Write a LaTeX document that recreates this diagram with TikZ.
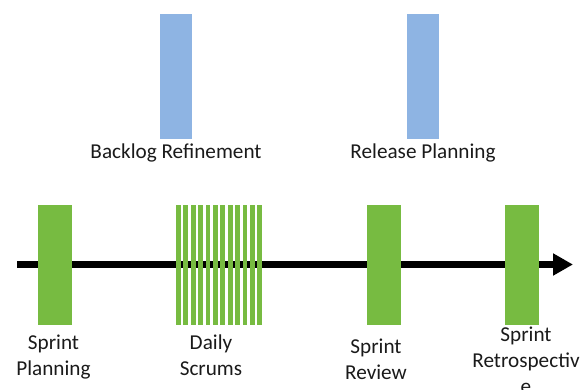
\documentclass[tikz,border=0pt]{standalone}
\usepackage{fontspec}
\setmainfont{Carlito}
\usetikzlibrary{arrows.meta}
\definecolor{barblue}{HTML}{8EB4E3}
\definecolor{bargreen}{HTML}{77BB41}
\definecolor{txt}{HTML}{1A1A1A}
\begin{document}
\begin{tikzpicture}[x=1pt,y=-1pt,
  bluebar/.style={rectangle,fill=barblue,inner sep=0pt,minimum width=32pt,minimum height=125pt},
  greenbar/.style={rectangle,fill=bargreen,inner sep=0pt,minimum width=34pt,minimum height=120pt},
  stripe/.style={rectangle,fill=bargreen,inner sep=0pt,minimum width=4.7pt,minimum height=120pt},
  lbl/.style={font=\fontsize{21.2}{26}\selectfont,text=txt,inner sep=0pt,align=center,anchor=base},
  timeline/.style={line width=6.5pt,-{Triangle[length=20pt,width=21pt]}}
]
\useasboundingbox (0,0) rectangle (583,390);
% timeline
\coordinate (tstart) at (17,264.5);
\coordinate (tend) at (573,264.5);
\draw[timeline] (tstart) -- (tend);
% blue bars
\node[bluebar] (br) at (176,76.5) {};
\node[bluebar] (rp) at (423,76.5) {};
\node[lbl] (brl) at (176,159) {Backlog Refinement};
\node[lbl] (rpl) at (423,159) {Release Planning};
% green bars
\node[greenbar] (sp) at (55,265) {};
\foreach \i in {0,...,11}{
  \node[stripe] (ds\i) at ({178.35+7.4*\i},265) {};
}
\node[greenbar] (sr) at (384,265) {};
\node[greenbar] (sre) at (522,265) {};
\node[lbl] (spl) at (53.5,375) {Sprint\\Planning};
\node[lbl] (dsl) at (211,375) {Daily\\Scrums};
\node[lbl] (srl) at (376,379) {Sprint\\Review};
\node[lbl] (srel) at (526,393) {Sprint\\Retrospectiv\\e};
\end{tikzpicture}
\end{document}
